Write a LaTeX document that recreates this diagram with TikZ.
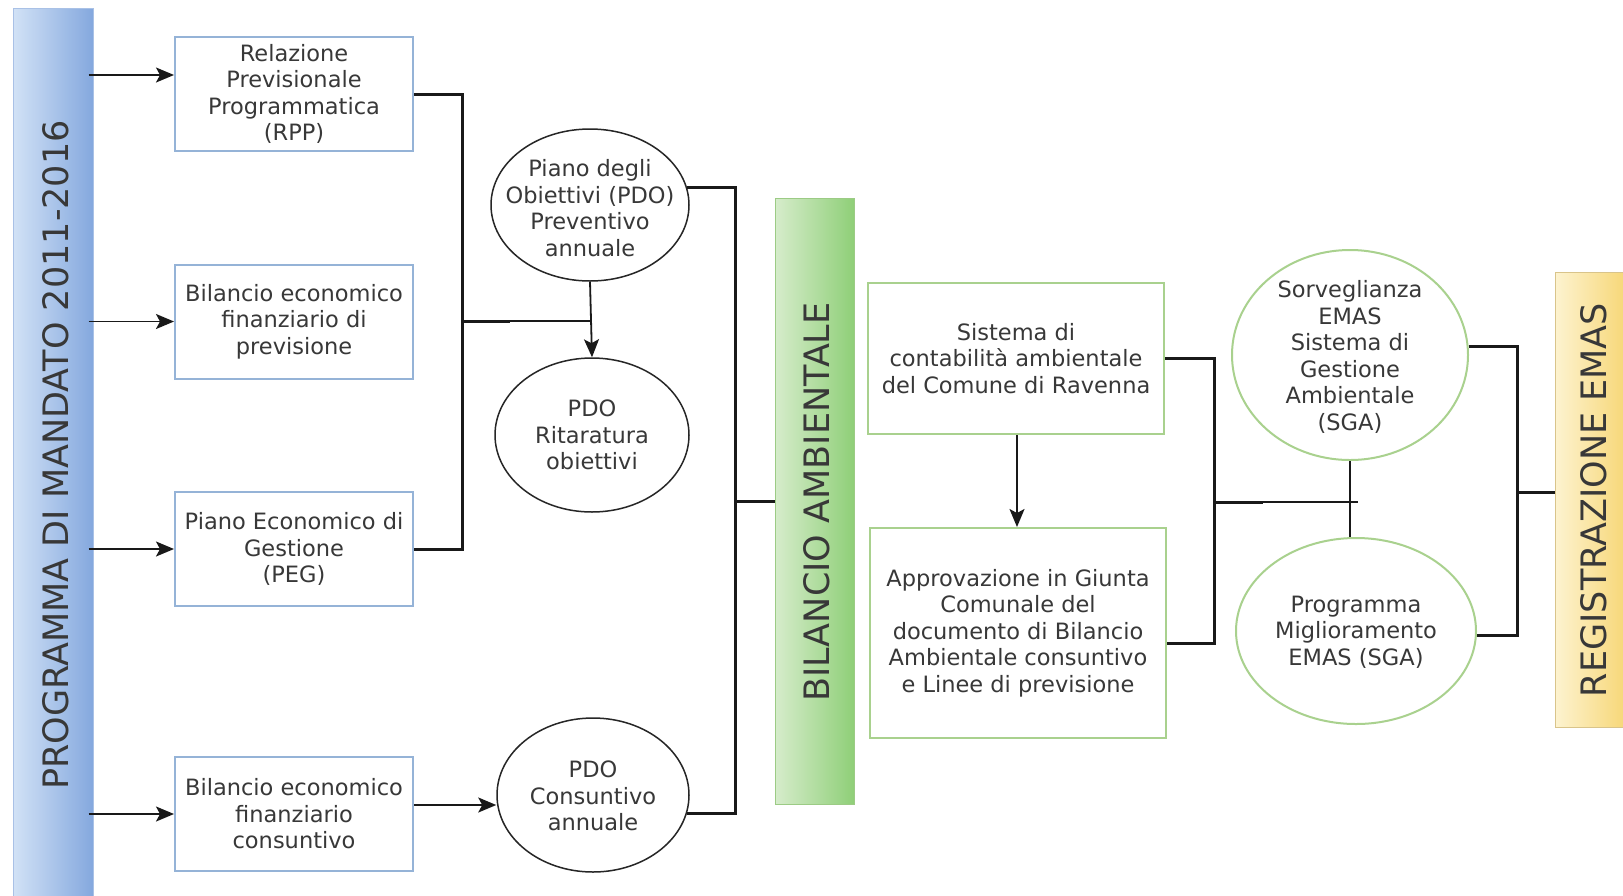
\documentclass[tikz,border=0pt]{standalone}
\usepackage{fontspec}
\setmainfont{DejaVu Sans}
\usetikzlibrary{shapes.geometric,arrows.meta}
\definecolor{txt}{HTML}{383838}
\definecolor{bluebd}{HTML}{95B3D7}
\definecolor{greenbd}{HTML}{A9D18E}
\definecolor{blueL}{HTML}{D2E2F6}
\definecolor{blueR}{HTML}{84A8DE}
\definecolor{blueedge}{HTML}{A9C1E6}
\definecolor{greenL}{HTML}{D6ECCB}
\definecolor{greenR}{HTML}{8FCF78}
\definecolor{greenedge}{HTML}{9CCB85}
\definecolor{yelL}{HTML}{FDF3D0}
\definecolor{yelR}{HTML}{F6D46E}
\definecolor{yeledge}{HTML}{D9C48A}
\begin{document}
\begin{tikzpicture}[x=1pt,y=-1pt,
  every node/.style={text=txt, font=\fontsize{22.5}{26.5}\selectfont, align=center, inner sep=0pt},
  bluebox/.style={draw=bluebd, line width=2pt, minimum width=238pt, minimum height=114pt, fill=white},
  greenbox/.style={draw=greenbd, line width=2pt, minimum width=296pt, fill=white},
  blkell/.style={ellipse, draw=black!85, line width=1.5pt, fill=white},
  grnell/.style={ellipse, draw=greenbd, line width=2pt, fill=white},
  brk/.style={line width=3pt, draw=black!90},
  arr/.style={line width=1.8pt, draw=black!90, -{Stealth[length=18pt,width=15pt,inset=4pt]}},
  thinln/.style={line width=1.5pt, draw=black!90},
  bigtxt/.style={font=\fontsize{35}{40}\selectfont, rotate=90, text=txt}
]
\useasboundingbox (0,0) rectangle (1623,895);
\fill[white] (0,0) rectangle (1623,895);

% side bars
\node[draw=blueedge, line width=1pt, left color=blueL, right color=blueR, minimum width=80pt, minimum height=900pt] (prog) at (53,458) {};
\node[bigtxt] (progt) at (56,455) {PROGRAMMA DI MANDATO 2011-2016};
\node[draw=greenedge, line width=1pt, left color=greenL, right color=greenR, minimum width=79pt, minimum height=606pt] (bil) at (814.5,501) {};
\node[bigtxt] (bilt) at (817,502) {BILANCIO AMBIENTALE};
\node[draw=yeledge, line width=1pt, left color=yelL, right color=yelR, minimum width=78pt, minimum height=455pt] (reg) at (1594,499.5) {};
\node[bigtxt] (regt) at (1594,500) {REGISTRAZIONE EMAS};

% left boxes
\node[bluebox] (rpp) at (294,94) {Relazione\\Previsionale\\Programmatica\\(RPP)};
\node[bluebox] (bprev) at (294,321.5) {Bilancio economico\\finanziario di\\previsione};
\node[bluebox] (peg) at (294,549) {Piano Economico di\\Gestione\\(PEG)};
\node[bluebox] (bcons) at (294,814) {Bilancio economico\\finanziario\\consuntivo};

% ellipses
\node[blkell, minimum width=198pt, minimum height=152pt] (pdo1) at (590,205) {};
\node (pdo1t) at (590,208) {Piano degli\\Obiettivi (PDO)\\Preventivo\\annuale};
\node[blkell, minimum width=194pt, minimum height=154pt] (pdo2) at (592,435) {};
\node (pdo2t) at (592,435) {PDO\\Ritaratura\\obiettivi};
\node[blkell, minimum width=192pt, minimum height=154pt] (pdo3) at (593,795) {};
\node (pdo3t) at (593,796) {PDO\\Consuntivo\\annuale};

% right boxes
\node[greenbox, minimum height=151pt] (sis) at (1016,358.5) {Sistema di\\contabilità ambientale\\del Comune di Ravenna};
\node[greenbox, minimum height=210pt] (app) at (1018,633) {Approvazione in Giunta\\Comunale del\\documento di Bilancio\\Ambientale consuntivo\\e Linee di previsione};
\node[grnell, minimum width=236pt, minimum height=210pt] (sorv) at (1350,355) {};
\node (sorvt) at (1350,357) {Sorveglianza\\EMAS\\Sistema di\\Gestione\\Ambientale\\(SGA)};
\node[grnell, minimum width=240pt, minimum height=186pt] (prg) at (1356,631) {};
\node (prgt) at (1356,632) {Programma\\Miglioramento\\EMAS (SGA)};

% arrows from the programme bar
\coordinate (ra) at ([yshift=19pt]rpp.west);
\draw[arr] ([xshift=-5pt]prog.east |- ra) -- (ra);
\draw[arr] ([xshift=-5pt]prog.east |- bprev.west) -- (bprev.west);
\draw[arr] ([xshift=-5pt]prog.east |- peg.west) -- (peg.west);
\draw[arr] ([xshift=-5pt]prog.east |- bcons.west) -- (bcons.west);

% bracket 1
\coordinate (b1) at (462,321);
\draw[brk] (rpp.east) -| (b1) |- (peg.east);
\draw[thinln] (b1) -- (pdo1.south |- b1);
\draw[brk] (b1) -- (510,321);
\draw[arr] (pdo1.south) -- (pdo2.north);

% consuntivo arrow
\coordinate (ca) at ([yshift=9pt]bcons.east);
\draw[arr] (ca) -- (pdo3.west |- ca);

% bracket 2
\coordinate (b2) at (735,501);
\draw[brk] (pdo1.10) -| (b2) |- (pdo3.-11);
\draw[brk] (b2) -- (bil.west |- b2);

% right part
\draw[arr] (sis.south -| 1017,0) -- (app.north -| 1017,0);
\coordinate (b3) at (1214,502);
\draw[brk] (sis.east) -| (b3) |- ([yshift=-10pt]app.east);
\draw[thinln] (b3) -- ([xshift=8pt]sorv.south |- b3);
\draw[brk] (b3) -- (1263,502);
\draw[thinln] (sorv.south) -- (sorv.south |- prg.north);

\coordinate (b4) at (1517,492);
\draw[brk] (sorv.4) -| (b4) |- (prg.-2);
\draw[brk] (b4) -- (reg.west |- b4);
\end{tikzpicture}
\end{document}
